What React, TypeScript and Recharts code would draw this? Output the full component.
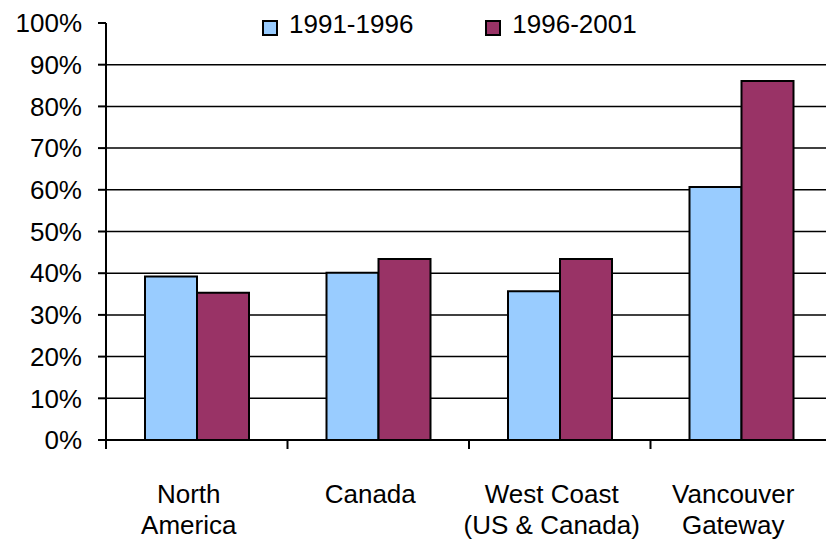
import React from "react";
import { BarChart, Bar, XAxis, YAxis, CartesianGrid } from "recharts";

// Region names; "\n" marks where each axis label wraps.
const regions = [
  "North\nAmerica",
  "Canada",
  "West Coast\n(US & Canada)",
  "Vancouver\nGateway",
];

// Growth (%) per period.
const growth1991to1996 = [39.2, 40.1, 35.7, 60.7];
const growth1996to2001 = [35.3, 43.4, 43.4, 86.1];

const seriesNames = ["1991-1996", "1996-2001"];
const seriesColors = ["#99CCFF", "#993366"];

const yTicks = [0, 10, 20, 30, 40, 50, 60, 70, 80, 90, 100];
const gridValues = [10, 20, 30, 40, 50, 60, 70, 80, 90];

const FONT = "'Liberation Sans', Arial, sans-serif";

const data = regions.map((region, i) => ({
  region,
  a: growth1991to1996[i],
  b: growth1996to2001[i],
}));

// Category label plus the tick mark on the left edge of its band.
const RegionTick = (props: any) => {
  const { x, y, payload } = props;
  const lines = String(payload.value).split("\n");
  const edge = x - (payload.offset ?? 0);
  const tx = x - 8;
  return (
    <g>
      <line x1={edge} x2={edge} y1={y} y2={y + 9} stroke="#000" strokeWidth={2} />
      <text
        x={tx}
        y={y}
        textAnchor="middle"
        fontFamily={FONT}
        fontSize={26}
        fill="#000"
        stroke="none"
      >
        {lines.map((line, i) => (
          <tspan key={i} x={tx} dy={i === 0 ? 63 : 31}>
            {line}
          </tspan>
        ))}
      </text>
    </g>
  );
};

const axisCss = `
.recharts-yAxis .recharts-cartesian-axis-line,
.recharts-yAxis .recharts-cartesian-axis-tick-line,
.recharts-xAxis .recharts-cartesian-axis-line {
  stroke: #000;
  stroke-width: 2px;
}
`;

const LegendBox = () => (
  <div
    style={{
      position: "absolute",
      top: 11,
      left: 262,
      display: "flex",
      alignItems: "center",
      fontFamily: FONT,
      fontSize: 26,
      lineHeight: "26px",
      color: "#000",
      whiteSpace: "nowrap",
    }}
  >
    {seriesNames.map((name, i) => (
      <div
        key={name}
        style={{ display: "flex", alignItems: "center", marginRight: i === 0 ? 72 : 0 }}
      >
        <span
          style={{
            display: "inline-block",
            width: 12,
            height: 12,
            background: seriesColors[i],
            border: "2px solid #000",
            marginRight: 11,
            marginTop: 8,
          }}
        />
        <span>{name}</span>
      </div>
    ))}
  </div>
);

export default function App() {
  return (
    <div
      style={{
        position: "absolute",
        left: 0,
        top: 0,
        width: 826,
        height: 539,
        overflow: "hidden",
        background: "#fff",
      }}
    >
      <style>{axisCss}</style>
      <BarChart
        width={840}
        height={539}
        data={data}
        margin={{ top: 23, right: 8, bottom: 0, left: 0 }}
        barGap={0}
        barSize={52}
      >
        <CartesianGrid
          vertical={false}
          horizontalValues={gridValues}
          stroke="#000"
          strokeWidth={1.5}
          strokeDasharray=""
        />
        <XAxis
          dataKey="region"
          height={99}
          stroke="#000"
          axisLine={{ stroke: "#000", strokeWidth: 2 }}
          tickLine={false}
          tickSize={0}
          tickMargin={0}
          interval={0}
          tick={<RegionTick />}
        />
        <YAxis
          width={106}
          domain={[0, 100]}
          ticks={yTicks}
          interval={0}
          tickFormatter={(v: number) => `${v}%`}
          tickSize={8}
          tickMargin={16}
          stroke="#000"
          axisLine={{ stroke: "#000", strokeWidth: 2 }}
          tickLine={{ stroke: "#000", strokeWidth: 2 }}
          tick={{ fill: "#000", stroke: "none", fontSize: 26, fontFamily: FONT }}
        />
        <Bar
          dataKey="a"
          name={seriesNames[0]}
          fill={seriesColors[0]}
          stroke="#000"
          strokeWidth={2}
          isAnimationActive={false}
        />
        <Bar
          dataKey="b"
          name={seriesNames[1]}
          fill={seriesColors[1]}
          stroke="#000"
          strokeWidth={2}
          isAnimationActive={false}
        />
      </BarChart>
      <LegendBox />
    </div>
  );
}
